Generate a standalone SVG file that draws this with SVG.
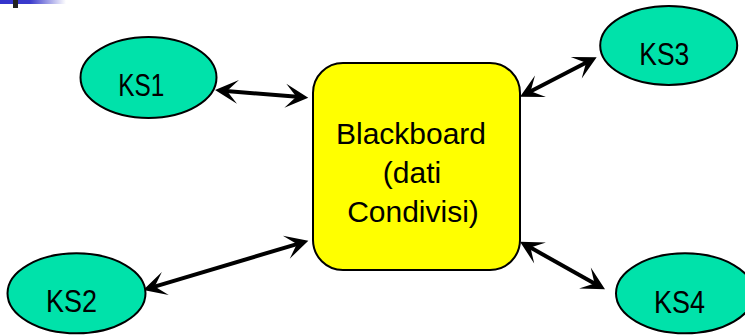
<svg xmlns="http://www.w3.org/2000/svg" width="745" height="335" viewBox="0 0 745 335">
<style>
.ks{fill:#00E2AA;stroke:#000;stroke-width:2}
.bb{fill:#FFFF00;stroke:#000;stroke-width:2}
.kt{font-family:"Liberation Sans",Arial,sans-serif;font-size:32px;fill:#000}
.bt{font-family:"Liberation Sans",Arial,sans-serif;font-size:30px;fill:#000;text-anchor:middle}
.conn{stroke:#000;stroke-width:4;fill:none;marker-start:url(#ah);marker-end:url(#ah)}
</style>
<defs>
<linearGradient id="bar" x1="0" y1="0" x2="1" y2="0">
<stop offset="0" stop-color="#3333CC"/>
<stop offset="0.45" stop-color="#3A3ACC"/>
<stop offset="1" stop-color="#FFFFFF"/>
</linearGradient>
<marker id="ah" markerUnits="userSpaceOnUse" markerWidth="30" markerHeight="30" refX="0" refY="0" orient="auto-start-reverse" overflow="visible">
<path d="M11,0 L-12,-12 L-1,0 L-12,12 Z" fill="#000"/>
</marker>
</defs>
<g id="decor">
<rect x="0" y="0" width="66" height="4" fill="url(#bar)"/>
<rect x="13" y="0" width="5" height="8" fill="#222"/>
</g>
<g id="connectors">
<path class="conn" d="M226,90.9 L297.3,96.8"/>
<path class="conn" d="M153.8,286.9 L297.8,243.8"/>
<path class="conn" d="M529.8,91.7 L586.9,62.3"/>
<path class="conn" d="M529.6,247.1 L595.4,283.9"/>
</g>
<g id="blackboard">
<rect class="bb" x="313" y="63" width="207" height="207" rx="30" ry="30"/>
<text class="bt" x="411" y="143.5">Blackboard</text>
<text class="bt" x="412" y="182.5">(dati</text>
<text class="bt" x="413" y="221.5">Condivisi)</text>
</g>
<g id="ks1">
<ellipse class="ks" cx="148.5" cy="77.5" rx="68" ry="40.5"/>
<text class="kt" x="118.3" y="96" textLength="46" lengthAdjust="spacingAndGlyphs">KS1</text>
</g>
<g id="ks2">
<ellipse class="ks" cx="76.5" cy="293.3" rx="69" ry="40"/>
<text class="kt" x="46" y="311.7" textLength="51" lengthAdjust="spacingAndGlyphs">KS2</text>
</g>
<g id="ks3">
<ellipse class="ks" cx="668.7" cy="45.5" rx="68.5" ry="39.5"/>
<text class="kt" x="639.3" y="64.5" textLength="50" lengthAdjust="spacingAndGlyphs">KS3</text>
</g>
<g id="ks4">
<ellipse class="ks" cx="685" cy="293.3" rx="69" ry="40"/>
<text class="kt" x="654" y="312.7" textLength="51" lengthAdjust="spacingAndGlyphs">KS4</text>
</g>
</svg>
